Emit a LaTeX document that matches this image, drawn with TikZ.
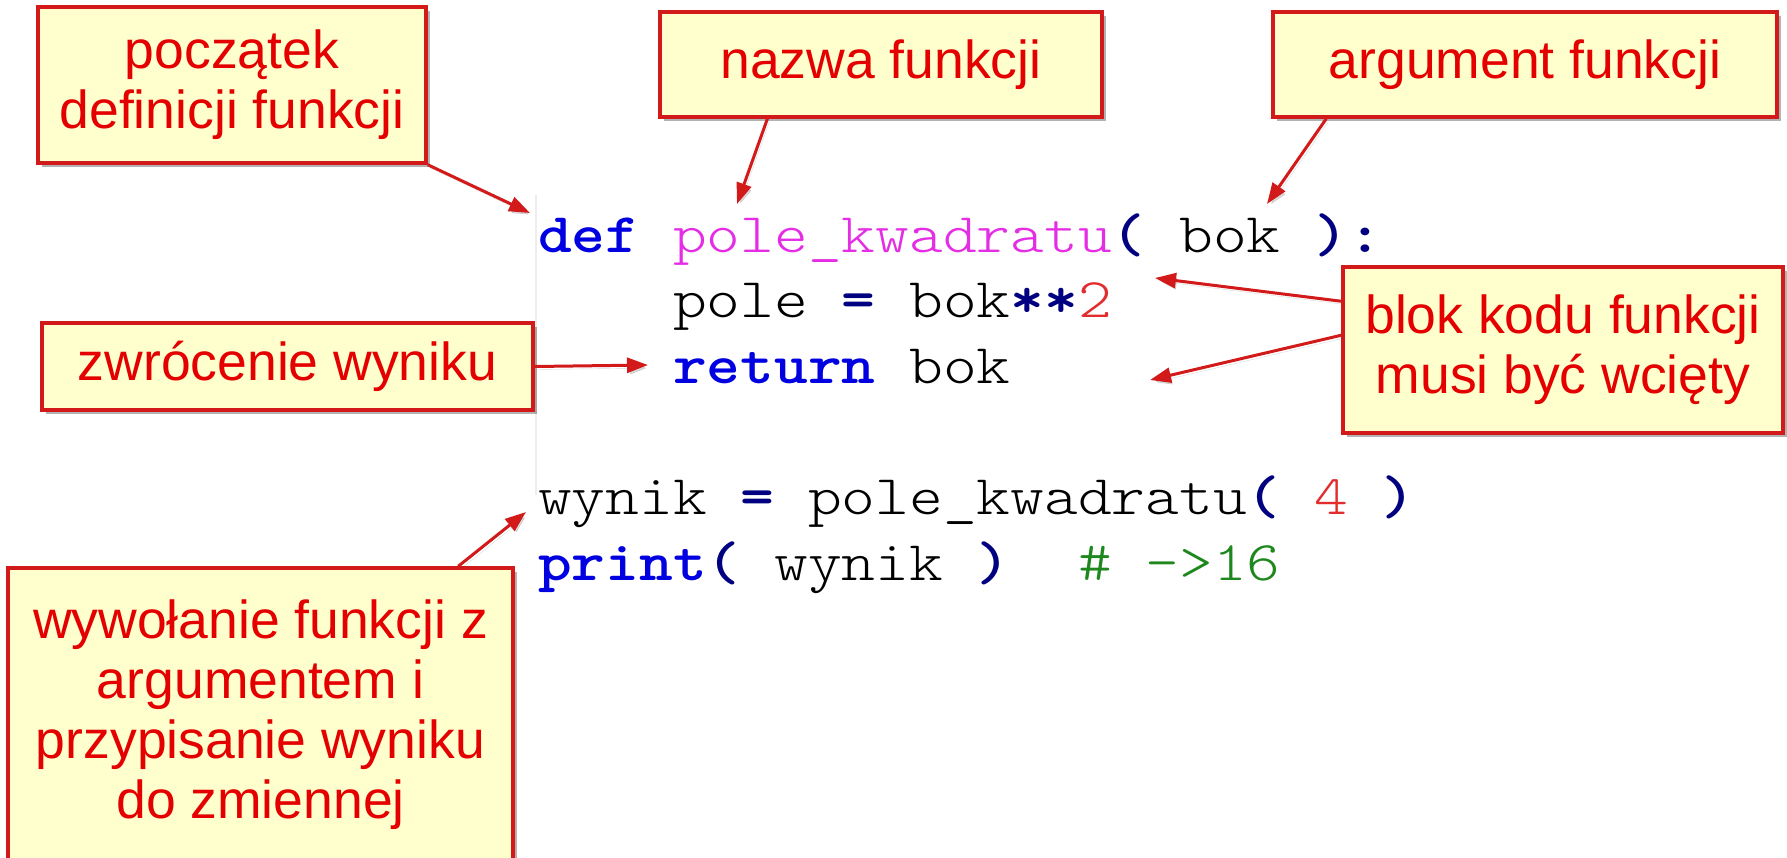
\documentclass[tikz,border=0pt]{standalone}
\usepackage{fontspec}
\usepackage{graphicx}
\usetikzlibrary{arrows.meta,shadows,calc}
\newfontfamily\notefont{Liberation Sans}
\definecolor{notered}{RGB}{228,0,0}
\definecolor{noteedge}{RGB}{210,26,26}
\definecolor{notefill}{RGB}{255,255,206}
\definecolor{kwblue}{RGB}{0,0,225}
\definecolor{opnavy}{RGB}{0,0,128}
\definecolor{fnpink}{RGB}{228,45,228}
\definecolor{numred}{RGB}{225,45,45}
\definecolor{cmtgreen}{RGB}{30,135,30}
% syntax colouring of the Python snippet
\newcommand\ckw[1]{{\fontseries{b}\selectfont\color{kwblue}#1}}
\newcommand\cop[1]{{\fontseries{b}\selectfont\color{opnavy}#1}}
\newcommand\cfn[1]{{\color{fnpink}#1}}
\newcommand\cnum[1]{{\color{numred}#1}}
\newcommand\ccmt[1]{{\color{cmtgreen}#1}}
% one line of code: light typewriter face widened to a Courier-like pitch
\newcommand\codeline[1]{\scalebox{1.148}[1]{\ttfamily\fontseries{l}\fontsize{56}{60}\selectfont #1}}
\begin{document}
\begin{tikzpicture}[x=1pt,y=-1pt,
  note/.style={draw=noteedge, line width=3.5pt, fill=notefill, text=notered,
    font=\notefont\fontsize{53.5}{60}\selectfont, align=center, inner sep=0pt,
    drop shadow={shadow xshift=4pt, shadow yshift=-4pt, opacity=.3, fill=black}},
  pointer/.style={draw=noteedge, line width=3pt,
    -{Triangle[length=21pt,width=15pt]},
    preaction={draw=black, opacity=.15, transform canvas={xshift=2pt,yshift=-3pt}}},
  code/.style={anchor=base west, inner sep=0pt}]
\useasboundingbox (0,0) rectangle (1787,857);
\fill[white] (0,0) rectangle (1787,857);

% left edge of the editor pane
\draw[black!7, line width=1.5pt] (536,195) -- (536,495);

% code
\node[code] (c1) at (538,252) {\codeline{\ckw{def}\ \cfn{pole\_kwadratu}\cop{(}\ bok\ \cop{)}\cop{:}}};
\node[code] (c2) at (673,317.5) {\codeline{pole\ \cop{=}\ bok\cop{**}\cnum{2}}};
\node[code] (c3) at (673,383) {\codeline{\ckw{return}\ bok}};
\node[code] (c4) at (538,514) {\codeline{wynik\ \cop{=}\ pole\_kwadratu\cop{(}\ \cnum{4}\ \cop{)}}};
\node[code] (c5) at (538,580) {\codeline{\ckw{print}\cop{(}\ wynik\ \cop{)}\ \ \ccmt{\#\ ->16}}};

% callouts
\node[note, minimum width=388, minimum height=156] (A) at (232,85) {początek\\definicji funkcji};
\node[note, minimum width=442, minimum height=105] (B) at (881,64.5) {nazwa funkcji};
\node[note, minimum width=504, minimum height=105] (C) at (1525,64.5) {argument funkcji};
\node[note, minimum width=491, minimum height=87] (D) at (287.5,366.5) {zwrócenie wyniku};
\node[note, minimum width=440, minimum height=166] (E) at (1563,350) {blok kodu funkcji\\musi być wcięty};
\node[note, minimum width=505, minimum height=294] (F) at (260.5,715) {wywołanie funkcji z\\argumentem i\\przypisanie wyniku\\do zmiennej};

% arrow tips
\coordinate (tA) at (530,213);
\coordinate (tB) at (737,204);
\coordinate (tC) at (1267,204);
\coordinate (tD) at (648,365);
\coordinate (tE1) at (1155,278);
\coordinate (tE2) at (1150,380);
\coordinate (tF) at (526,512);

\draw[pointer] (A.south east) -- (tA);
\draw[pointer] ($(B.south west)!0.245!(B.south east)$) -- (tB);
\draw[pointer] ($(C.south west)+(55,0)$) -- (tC);
\draw[pointer] (D.east) -- (tD);
\draw[pointer] ($(E.north west)+(0,36)$) -- (tE1);
\draw[pointer] ($(E.north west)+(0,70)$) -- (tE2);
\draw[pointer] ($(F.north west)+(452,0)$) -- (tF);
\end{tikzpicture}
\end{document}
